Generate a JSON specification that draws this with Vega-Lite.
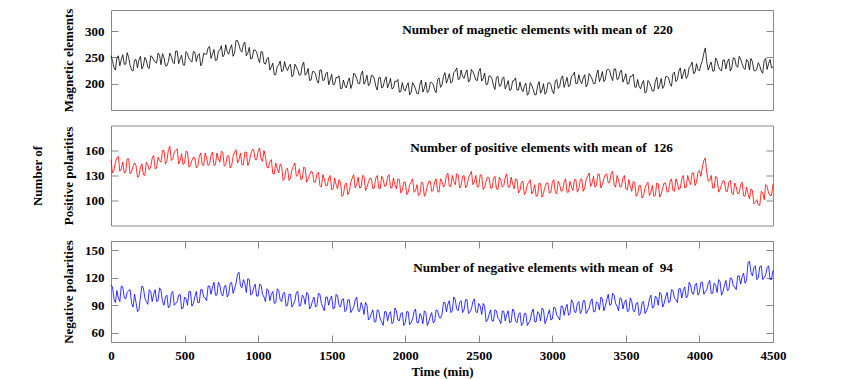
{
"$schema": "https://vega.github.io/schema/vega-lite/v6.json",
"background": "white",
"padding": {"left": 31, "top": 7, "right": 5, "bottom": 5},
"spacing": 15.5,
"bounds": "flush",
"config": {
  "font": "Liberation Serif",
  "view": {"stroke": "#888", "strokeWidth": 1},
  "axis": {"grid": false, "domain": false, "tickColor": "#888", "tickSize": -7, "labelPadding": 14, "titlePadding": 9,
    "labelFont": "Liberation Serif", "labelFontSize": 13, "labelFontWeight": "bold", "labelColor": "black", "format": "d",
    "titleFont": "Liberation Serif", "titleFontSize": 13, "titleFontWeight": "bold", "titleColor": "black"}
},
"datasets": {"d": [
{"t":0,"m":253,"p":149,"n":112},{"t":10,"m":244,"p":133,"n":110},{"t":20,"m":231,"p":136,"n":97},{"t":30,"m":226,"p":146,"n":93},{"t":40,"m":248,"p":151,"n":106},{"t":50,"m":253,"p":153,"n":98},{"t":60,"m":234,"p":135,"n":94},{"t":70,"m":246,"p":138,"n":111},{"t":80,"m":255,"p":146,"n":110},{"t":90,"m":237,"p":133,"n":98},
{"t":100,"m":237,"p":134,"n":97},{"t":110,"m":259,"p":150,"n":104},{"t":120,"m":250,"p":150,"n":106},{"t":130,"m":235,"p":132,"n":107},{"t":140,"m":226,"p":135,"n":92},{"t":150,"m":224,"p":141,"n":88},{"t":160,"m":245,"p":145,"n":102},{"t":170,"m":246,"p":142,"n":93},{"t":180,"m":230,"p":128,"n":83},{"t":190,"m":245,"p":129,"n":85},
{"t":200,"m":252,"p":140,"n":99},{"t":210,"m":228,"p":144,"n":111},{"t":220,"m":234,"p":131,"n":109},{"t":230,"m":250,"p":130,"n":98},{"t":240,"m":245,"p":146,"n":94},{"t":250,"m":231,"p":143,"n":91},{"t":260,"m":229,"p":137,"n":107},{"t":270,"m":253,"p":140,"n":105},{"t":280,"m":251,"p":151,"n":94},{"t":290,"m":245,"p":154,"n":102},
{"t":300,"m":241,"p":138,"n":107},{"t":310,"m":239,"p":139,"n":94},{"t":320,"m":258,"p":152,"n":95},{"t":330,"m":254,"p":148,"n":109},{"t":340,"m":236,"p":146,"n":106},{"t":350,"m":257,"p":160,"n":94},{"t":360,"m":250,"p":160,"n":90},{"t":370,"m":234,"p":144,"n":99},{"t":380,"m":234,"p":147,"n":101},{"t":390,"m":242,"p":161,"n":87},
{"t":400,"m":258,"p":165,"n":89},{"t":410,"m":252,"p":148,"n":103},{"t":420,"m":241,"p":150,"n":105},{"t":430,"m":238,"p":158,"n":90},{"t":440,"m":262,"p":160,"n":92},{"t":450,"m":262,"p":162,"n":94},{"t":460,"m":238,"p":144,"n":101},{"t":470,"m":247,"p":148,"n":102},{"t":480,"m":254,"p":156,"n":86},{"t":490,"m":236,"p":143,"n":87},
{"t":500,"m":235,"p":145,"n":99},{"t":510,"m":261,"p":159,"n":97},{"t":520,"m":257,"p":158,"n":90},{"t":530,"m":248,"p":140,"n":105},{"t":540,"m":244,"p":142,"n":105},{"t":550,"m":241,"p":148,"n":89},{"t":560,"m":261,"p":152,"n":92},{"t":570,"m":260,"p":151,"n":99},{"t":580,"m":242,"p":139,"n":105},{"t":590,"m":254,"p":141,"n":93},
{"t":600,"m":257,"p":153,"n":93},{"t":610,"m":234,"p":157,"n":107},{"t":620,"m":240,"p":143,"n":107},{"t":630,"m":258,"p":142,"n":99},{"t":640,"m":256,"p":157,"n":98},{"t":650,"m":256,"p":151,"n":95},{"t":660,"m":268,"p":142,"n":111},{"t":670,"m":271,"p":144,"n":111},{"t":680,"m":248,"p":154,"n":102},{"t":690,"m":256,"p":158,"n":110},
{"t":700,"m":265,"p":142,"n":115},{"t":710,"m":244,"p":143,"n":101},{"t":720,"m":245,"p":157,"n":101},{"t":730,"m":262,"p":150,"n":115},{"t":740,"m":264,"p":146,"n":112},{"t":750,"m":272,"p":159,"n":102},{"t":760,"m":251,"p":158,"n":100},{"t":770,"m":255,"p":141,"n":110},{"t":780,"m":274,"p":143,"n":112},{"t":790,"m":261,"p":153,"n":99},
{"t":800,"m":256,"p":154,"n":102},{"t":810,"m":267,"p":139,"n":114},{"t":820,"m":274,"p":142,"n":115},{"t":830,"m":252,"p":153,"n":103},{"t":840,"m":258,"p":158,"n":108},{"t":850,"m":282,"p":161,"n":114},{"t":860,"m":282,"p":145,"n":124},{"t":870,"m":274,"p":149,"n":126},{"t":880,"m":263,"p":157,"n":111},{"t":890,"m":260,"p":143,"n":109},
{"t":900,"m":275,"p":143,"n":118},{"t":910,"m":279,"p":158,"n":114},{"t":920,"m":253,"p":158,"n":104},{"t":930,"m":258,"p":142,"n":119},{"t":940,"m":269,"p":147,"n":118},{"t":950,"m":247,"p":155,"n":101},{"t":960,"m":248,"p":161,"n":103},{"t":970,"m":264,"p":161,"n":109},{"t":980,"m":264,"p":149,"n":113},{"t":990,"m":260,"p":149,"n":100},
{"t":1000,"m":248,"p":159,"n":100},{"t":1010,"m":240,"p":163,"n":113},{"t":1020,"m":261,"p":150,"n":112},{"t":1030,"m":260,"p":147,"n":102},{"t":1040,"m":239,"p":160,"n":99},{"t":1050,"m":237,"p":152,"n":94},{"t":1060,"m":247,"p":140,"n":108},{"t":1070,"m":250,"p":139,"n":106},{"t":1080,"m":226,"p":147,"n":95},{"t":1090,"m":232,"p":149,"n":102},
{"t":1100,"m":239,"p":132,"n":105},{"t":1110,"m":217,"p":132,"n":92},{"t":1120,"m":217,"p":145,"n":93},{"t":1130,"m":233,"p":138,"n":108},{"t":1140,"m":235,"p":133,"n":106},{"t":1150,"m":243,"p":144,"n":96},{"t":1160,"m":223,"p":141,"n":94},{"t":1170,"m":225,"p":124,"n":103},{"t":1180,"m":242,"p":126,"n":104},{"t":1190,"m":230,"p":137,"n":89},
{"t":1200,"m":225,"p":139,"n":90},{"t":1210,"m":233,"p":124,"n":102},{"t":1220,"m":237,"p":127,"n":102},{"t":1230,"m":213,"p":137,"n":88},{"t":1240,"m":217,"p":141,"n":91},{"t":1250,"m":237,"p":145,"n":95},{"t":1260,"m":232,"p":129,"n":104},{"t":1270,"m":225,"p":131,"n":105},{"t":1280,"m":216,"p":138,"n":89},{"t":1290,"m":217,"p":125,"n":90},
{"t":1300,"m":235,"p":126,"n":101},{"t":1310,"m":241,"p":140,"n":99},{"t":1320,"m":216,"p":139,"n":91},{"t":1330,"m":220,"p":122,"n":104},{"t":1340,"m":229,"p":126,"n":102},{"t":1350,"m":206,"p":131,"n":86},{"t":1360,"m":207,"p":135,"n":89},{"t":1370,"m":223,"p":134,"n":95},{"t":1380,"m":223,"p":122,"n":99},{"t":1390,"m":219,"p":122,"n":88},
{"t":1400,"m":206,"p":132,"n":90},{"t":1410,"m":201,"p":134,"n":103},{"t":1420,"m":226,"p":118,"n":102},{"t":1430,"m":226,"p":116,"n":92},{"t":1440,"m":206,"p":131,"n":88},{"t":1450,"m":207,"p":126,"n":84},{"t":1460,"m":219,"p":118,"n":99},{"t":1470,"m":222,"p":118,"n":99},{"t":1480,"m":198,"p":127,"n":90},{"t":1490,"m":207,"p":130,"n":97},
{"t":1500,"m":218,"p":113,"n":100},{"t":1510,"m":198,"p":114,"n":86},{"t":1520,"m":199,"p":127,"n":87},{"t":1530,"m":212,"p":119,"n":102},{"t":1540,"m":211,"p":114,"n":100},{"t":1550,"m":215,"p":125,"n":90},{"t":1560,"m":191,"p":122,"n":88},{"t":1570,"m":191,"p":105,"n":96},{"t":1580,"m":207,"p":107,"n":97},{"t":1590,"m":196,"p":119,"n":83},
{"t":1600,"m":192,"p":121,"n":85},{"t":1610,"m":204,"p":107,"n":96},{"t":1620,"m":211,"p":111,"n":96},{"t":1630,"m":191,"p":122,"n":82},{"t":1640,"m":199,"p":127,"n":85},{"t":1650,"m":220,"p":131,"n":88},{"t":1660,"m":217,"p":115,"n":96},{"t":1670,"m":210,"p":119,"n":99},{"t":1680,"m":200,"p":128,"n":84},{"t":1690,"m":200,"p":115,"n":83},
{"t":1700,"m":218,"p":116,"n":93},{"t":1710,"m":224,"p":130,"n":89},{"t":1720,"m":199,"p":129,"n":80},{"t":1730,"m":205,"p":112,"n":93},{"t":1740,"m":216,"p":116,"n":90},{"t":1750,"m":196,"p":122,"n":74},{"t":1760,"m":200,"p":127,"n":76},{"t":1770,"m":216,"p":126,"n":81},{"t":1780,"m":215,"p":114,"n":85},{"t":1790,"m":209,"p":115,"n":72},
{"t":1800,"m":195,"p":127,"n":72},{"t":1810,"m":188,"p":130,"n":85},{"t":1820,"m":211,"p":115,"n":84},{"t":1830,"m":212,"p":114,"n":75},{"t":1840,"m":192,"p":129,"n":72},{"t":1850,"m":194,"p":125,"n":68},{"t":1860,"m":207,"p":117,"n":83},{"t":1870,"m":213,"p":118,"n":83},{"t":1880,"m":192,"p":128,"n":73},{"t":1890,"m":200,"p":131,"n":80},
{"t":1900,"m":210,"p":115,"n":83},{"t":1910,"m":190,"p":115,"n":70},{"t":1920,"m":192,"p":127,"n":72},{"t":1930,"m":205,"p":119,"n":87},{"t":1940,"m":204,"p":114,"n":84},{"t":1950,"m":208,"p":126,"n":74},{"t":1960,"m":184,"p":125,"n":73},{"t":1970,"m":185,"p":109,"n":81},{"t":1980,"m":202,"p":112,"n":82},{"t":1990,"m":190,"p":122,"n":68},
{"t":2000,"m":186,"p":122,"n":71},{"t":2010,"m":196,"p":107,"n":83},{"t":2020,"m":202,"p":110,"n":83},{"t":2030,"m":179,"p":119,"n":69},{"t":2040,"m":183,"p":122,"n":71},{"t":2050,"m":202,"p":126,"n":75},{"t":2060,"m":197,"p":110,"n":83},{"t":2070,"m":190,"p":112,"n":86},{"t":2080,"m":181,"p":119,"n":71},{"t":2090,"m":181,"p":106,"n":71},
{"t":2100,"m":199,"p":108,"n":81},{"t":2110,"m":207,"p":122,"n":78},{"t":2120,"m":184,"p":121,"n":70},{"t":2130,"m":191,"p":105,"n":84},{"t":2140,"m":203,"p":109,"n":82},{"t":2150,"m":183,"p":117,"n":68},{"t":2160,"m":186,"p":123,"n":72},{"t":2170,"m":202,"p":123,"n":78},{"t":2180,"m":202,"p":111,"n":82},{"t":2190,"m":199,"p":112,"n":71},
{"t":2200,"m":188,"p":123,"n":72},{"t":2210,"m":183,"p":126,"n":85},{"t":2220,"m":208,"p":111,"n":84},{"t":2230,"m":211,"p":110,"n":77},{"t":2240,"m":193,"p":126,"n":76},{"t":2250,"m":198,"p":123,"n":80},{"t":2260,"m":214,"p":116,"n":93},{"t":2270,"m":221,"p":119,"n":93},{"t":2280,"m":201,"p":130,"n":83},{"t":2290,"m":209,"p":133,"n":91},
{"t":2300,"m":219,"p":117,"n":95},{"t":2310,"m":201,"p":117,"n":82},{"t":2320,"m":204,"p":130,"n":84},{"t":2330,"m":221,"p":123,"n":99},{"t":2340,"m":224,"p":119,"n":96},{"t":2350,"m":230,"p":132,"n":86},{"t":2360,"m":208,"p":131,"n":84},{"t":2370,"m":209,"p":115,"n":93},{"t":2380,"m":226,"p":118,"n":95},{"t":2390,"m":214,"p":129,"n":82},
{"t":2400,"m":210,"p":130,"n":85},{"t":2410,"m":220,"p":115,"n":96},{"t":2420,"m":226,"p":118,"n":96},{"t":2430,"m":203,"p":127,"n":81},{"t":2440,"m":207,"p":131,"n":83},{"t":2450,"m":227,"p":135,"n":86},{"t":2460,"m":223,"p":119,"n":94},{"t":2470,"m":216,"p":122,"n":97},{"t":2480,"m":207,"p":130,"n":83},{"t":2490,"m":206,"p":116,"n":82},
{"t":2500,"m":223,"p":117,"n":92},{"t":2510,"m":229,"p":131,"n":89},{"t":2520,"m":205,"p":130,"n":80},{"t":2530,"m":210,"p":113,"n":92},{"t":2540,"m":220,"p":116,"n":89},{"t":2550,"m":198,"p":123,"n":72},{"t":2560,"m":199,"p":128,"n":74},{"t":2570,"m":215,"p":127,"n":80},{"t":2580,"m":214,"p":115,"n":85},{"t":2590,"m":209,"p":115,"n":73},
{"t":2600,"m":196,"p":126,"n":73},{"t":2610,"m":189,"p":129,"n":85},{"t":2620,"m":212,"p":114,"n":84},{"t":2630,"m":214,"p":113,"n":76},{"t":2640,"m":195,"p":128,"n":74},{"t":2650,"m":197,"p":124,"n":70},{"t":2660,"m":210,"p":116,"n":84},{"t":2670,"m":213,"p":118,"n":83},{"t":2680,"m":190,"p":128,"n":73},{"t":2690,"m":197,"p":132,"n":80},
{"t":2700,"m":206,"p":116,"n":84},{"t":2710,"m":187,"p":116,"n":71},{"t":2720,"m":189,"p":128,"n":72},{"t":2730,"m":205,"p":120,"n":86},{"t":2740,"m":206,"p":114,"n":83},{"t":2750,"m":211,"p":126,"n":73},{"t":2760,"m":188,"p":125,"n":71},{"t":2770,"m":188,"p":109,"n":80},{"t":2780,"m":203,"p":112,"n":82},{"t":2790,"m":190,"p":122,"n":68},
{"t":2800,"m":185,"p":123,"n":70},{"t":2810,"m":195,"p":107,"n":81},{"t":2820,"m":201,"p":110,"n":81},{"t":2830,"m":178,"p":119,"n":68},{"t":2840,"m":182,"p":122,"n":71},{"t":2850,"m":202,"p":125,"n":74},{"t":2860,"m":197,"p":108,"n":82},{"t":2870,"m":189,"p":111,"n":86},{"t":2880,"m":179,"p":119,"n":72},{"t":2890,"m":179,"p":105,"n":72},
{"t":2900,"m":196,"p":106,"n":83},{"t":2910,"m":204,"p":121,"n":81},{"t":2920,"m":182,"p":120,"n":73},{"t":2930,"m":188,"p":104,"n":87},{"t":2940,"m":200,"p":109,"n":85},{"t":2950,"m":180,"p":116,"n":70},{"t":2960,"m":184,"p":121,"n":74},{"t":2970,"m":201,"p":121,"n":80},{"t":2980,"m":202,"p":109,"n":85},{"t":2990,"m":198,"p":110,"n":74},
{"t":3000,"m":186,"p":122,"n":75},{"t":3010,"m":181,"p":125,"n":88},{"t":3020,"m":205,"p":110,"n":87},{"t":3030,"m":208,"p":108,"n":79},{"t":3040,"m":191,"p":123,"n":77},{"t":3050,"m":195,"p":119,"n":74},{"t":3060,"m":210,"p":111,"n":89},{"t":3070,"m":215,"p":112,"n":89},{"t":3080,"m":193,"p":122,"n":79},{"t":3090,"m":202,"p":126,"n":87},
{"t":3100,"m":212,"p":110,"n":91},{"t":3110,"m":194,"p":110,"n":79},{"t":3120,"m":197,"p":123,"n":81},{"t":3130,"m":214,"p":116,"n":96},{"t":3140,"m":216,"p":112,"n":93},{"t":3150,"m":222,"p":125,"n":83},{"t":3160,"m":200,"p":125,"n":82},{"t":3170,"m":201,"p":110,"n":92},{"t":3180,"m":217,"p":114,"n":94},{"t":3190,"m":205,"p":125,"n":81},
{"t":3200,"m":200,"p":126,"n":84},{"t":3210,"m":211,"p":111,"n":95},{"t":3220,"m":217,"p":115,"n":95},{"t":3230,"m":194,"p":125,"n":81},{"t":3240,"m":199,"p":129,"n":84},{"t":3250,"m":219,"p":133,"n":87},{"t":3260,"m":215,"p":117,"n":94},{"t":3270,"m":209,"p":121,"n":97},{"t":3280,"m":200,"p":129,"n":83},{"t":3290,"m":200,"p":116,"n":83},
{"t":3300,"m":217,"p":118,"n":94},{"t":3310,"m":226,"p":132,"n":92},{"t":3320,"m":204,"p":131,"n":85},{"t":3330,"m":211,"p":115,"n":99},{"t":3340,"m":223,"p":119,"n":97},{"t":3350,"m":204,"p":126,"n":84},{"t":3360,"m":208,"p":131,"n":89},{"t":3370,"m":226,"p":132,"n":96},{"t":3380,"m":228,"p":121,"n":102},{"t":3390,"m":225,"p":122,"n":90},
{"t":3400,"m":213,"p":133,"n":91},{"t":3410,"m":206,"p":135,"n":103},{"t":3420,"m":228,"p":119,"n":101},{"t":3430,"m":228,"p":116,"n":92},{"t":3440,"m":208,"p":130,"n":89},{"t":3450,"m":209,"p":125,"n":84},{"t":3460,"m":222,"p":116,"n":98},{"t":3470,"m":226,"p":117,"n":97},{"t":3480,"m":203,"p":127,"n":86},{"t":3490,"m":210,"p":130,"n":93},
{"t":3500,"m":219,"p":114,"n":96},{"t":3510,"m":199,"p":113,"n":83},{"t":3520,"m":200,"p":125,"n":84},{"t":3530,"m":214,"p":117,"n":98},{"t":3540,"m":214,"p":111,"n":94},{"t":3550,"m":218,"p":123,"n":84},{"t":3560,"m":194,"p":121,"n":83},{"t":3570,"m":193,"p":105,"n":92},{"t":3580,"m":208,"p":108,"n":93},{"t":3590,"m":195,"p":118,"n":79},
{"t":3600,"m":190,"p":118,"n":81},{"t":3610,"m":200,"p":103,"n":93},{"t":3620,"m":206,"p":106,"n":94},{"t":3630,"m":182,"p":115,"n":81},{"t":3640,"m":185,"p":119,"n":84},{"t":3650,"m":206,"p":122,"n":88},{"t":3660,"m":202,"p":106,"n":97},{"t":3670,"m":195,"p":110,"n":101},{"t":3680,"m":186,"p":118,"n":87},{"t":3690,"m":186,"p":105,"n":88},
{"t":3700,"m":204,"p":106,"n":100},{"t":3710,"m":212,"p":121,"n":98},{"t":3720,"m":190,"p":120,"n":90},{"t":3730,"m":197,"p":104,"n":104},{"t":3740,"m":210,"p":108,"n":102},{"t":3750,"m":191,"p":115,"n":88},{"t":3760,"m":196,"p":121,"n":92},{"t":3770,"m":213,"p":121,"n":99},{"t":3780,"m":214,"p":110,"n":104},{"t":3790,"m":211,"p":111,"n":93},
{"t":3800,"m":200,"p":123,"n":94},{"t":3810,"m":195,"p":126,"n":107},{"t":3820,"m":219,"p":112,"n":106},{"t":3830,"m":222,"p":111,"n":98},{"t":3840,"m":204,"p":126,"n":96},{"t":3850,"m":208,"p":121,"n":93},{"t":3860,"m":224,"p":113,"n":108},{"t":3870,"m":230,"p":115,"n":108},{"t":3880,"m":209,"p":126,"n":98},{"t":3890,"m":218,"p":130,"n":106},
{"t":3900,"m":228,"p":115,"n":110},{"t":3910,"m":210,"p":116,"n":98},{"t":3920,"m":214,"p":130,"n":100},{"t":3930,"m":231,"p":123,"n":115},{"t":3940,"m":234,"p":119,"n":112},{"t":3950,"m":241,"p":133,"n":103},{"t":3960,"m":219,"p":133,"n":102},{"t":3970,"m":221,"p":118,"n":112},{"t":3980,"m":238,"p":122,"n":114},{"t":3990,"m":227,"p":134,"n":101},
{"t":4000,"m":224,"p":136,"n":104},{"t":4010,"m":236,"p":129,"n":115},{"t":4020,"m":244,"p":140,"n":115},{"t":4030,"m":258,"p":148,"n":102},{"t":4040,"m":268,"p":151,"n":105},{"t":4050,"m":240,"p":133,"n":107},{"t":4060,"m":226,"p":123,"n":114},{"t":4070,"m":235,"p":124,"n":117},{"t":4080,"m":241,"p":130,"n":103},{"t":4090,"m":224,"p":115,"n":103},
{"t":4100,"m":224,"p":115,"n":114},{"t":4110,"m":249,"p":129,"n":112},{"t":4120,"m":243,"p":127,"n":104},{"t":4130,"m":232,"p":110,"n":118},{"t":4140,"m":227,"p":113,"n":116},{"t":4150,"m":224,"p":119,"n":101},{"t":4160,"m":245,"p":124,"n":105},{"t":4170,"m":245,"p":123,"n":112},{"t":4180,"m":228,"p":111,"n":117},{"t":4190,"m":242,"p":111,"n":106},
{"t":4200,"m":247,"p":122,"n":107},{"t":4210,"m":224,"p":124,"n":120},{"t":4220,"m":230,"p":109,"n":119},{"t":4230,"m":249,"p":107,"n":111},{"t":4240,"m":248,"p":121,"n":110},{"t":4250,"m":234,"p":116,"n":107},{"t":4260,"m":231,"p":108,"n":122},{"t":4270,"m":252,"p":109,"n":122},{"t":4280,"m":247,"p":119,"n":113},{"t":4290,"m":238,"p":122,"n":121},
{"t":4300,"m":230,"p":106,"n":125},{"t":4310,"m":227,"p":105,"n":114},{"t":4320,"m":246,"p":116,"n":117},{"t":4330,"m":243,"p":108,"n":136},{"t":4340,"m":226,"p":102,"n":138},{"t":4350,"m":248,"p":114,"n":126},{"t":4360,"m":242,"p":112,"n":122},{"t":4370,"m":225,"p":96,"n":131},{"t":4380,"m":224,"p":98,"n":133},{"t":4390,"m":228,"p":101,"n":118},
{"t":4400,"m":240,"p":95,"n":120},{"t":4410,"m":234,"p":94,"n":132},{"t":4420,"m":224,"p":111,"n":133},{"t":4430,"m":220,"p":109,"n":118},{"t":4440,"m":244,"p":101,"n":120},{"t":4450,"m":248,"p":119,"n":123},{"t":4460,"m":227,"p":117,"n":131},{"t":4470,"m":238,"p":109,"n":133},{"t":4480,"m":246,"p":106,"n":118},{"t":4490,"m":230,"p":106,"n":118},
{"t":4500,"m":232,"p":120,"n":128}
]},
"vconcat": [
 {
  "width": 662, "height": 100,
  "resolve": {"axis": {"y": "independent"}},
  "layer": [
   {"data": {"name": "d"},
    "mark": {"type": "line", "color": "black", "strokeWidth": 0.8},
    "encoding": {
     "x": {"field": "t", "type": "quantitative", "scale": {"domain": [0, 4500], "nice": false}, "axis": null},
     "y": {"field": "m", "type": "quantitative", "scale": {"domain": [150, 340], "zero": false, "nice": false},
           "axis": {"title": "Magnetic elements", "values": [200, 250, 300]}}
    }},
   {"data": {"values": [{}]},
    "mark": {"type": "text", "align": "right", "baseline": "middle", "fontSize": 13.2, "fontWeight": "bold", "font": "Liberation Serif", "color": "black"},
    "encoding": {
     "x": {"datum": 3820, "type": "quantitative", "axis": null},
     "y": {"datum": 302, "type": "quantitative", "axis": {"orient": "right", "labels": false, "title": null, "values": [200, 250, 300]}},
     "text": {"value": "Number of magnetic elements with mean of\u00a0 220"}
    }}
  ]
 },
 {
  "width": 662, "height": 100,
  "resolve": {"axis": {"y": "independent"}},
  "layer": [
   {"data": {"name": "d"},
    "mark": {"type": "line", "color": "#ff0000", "strokeWidth": 0.8},
    "encoding": {
     "x": {"field": "t", "type": "quantitative", "scale": {"domain": [0, 4500], "nice": false}, "axis": null},
     "y": {"field": "p", "type": "quantitative", "scale": {"domain": [70, 190], "zero": false, "nice": false},
           "axis": {"title": ["Number of", "Positive polarities"], "titleLineHeight": 31, "values": [100, 130, 160]}}
    }},
   {"data": {"values": [{}]},
    "mark": {"type": "text", "align": "right", "baseline": "middle", "fontSize": 13.2, "fontWeight": "bold", "font": "Liberation Serif", "color": "black"},
    "encoding": {
     "x": {"datum": 3820, "type": "quantitative", "axis": null},
     "y": {"datum": 163, "type": "quantitative", "axis": {"orient": "right", "labels": false, "title": null, "values": [100, 130, 160]}},
     "text": {"value": "Number of positive elements with mean of\u00a0 126"}
    }}
  ]
 },
 {
  "width": 662, "height": 101,
  "resolve": {"axis": {"y": "independent", "x": "independent"}},
  "layer": [
   {"data": {"name": "d"},
    "mark": {"type": "line", "color": "#0000ff", "strokeWidth": 0.8},
    "encoding": {
     "x": {"field": "t", "type": "quantitative", "scale": {"domain": [0, 4500], "nice": false},
           "axis": {"title": "Time (min)", "values": [0, 500, 1000, 1500, 2000, 2500, 3000, 3500, 4000, 4500], "labelFlush": false, "titlePadding": 3}},
     "y": {"field": "n", "type": "quantitative", "scale": {"domain": [50, 160], "zero": false, "nice": false},
           "axis": {"title": "Negative polarities", "values": [60, 90, 120, 150]}}
    }},
   {"data": {"values": [{}]},
    "mark": {"type": "text", "align": "right", "baseline": "middle", "fontSize": 13.2, "fontWeight": "bold", "font": "Liberation Serif", "color": "black"},
    "encoding": {
     "x": {"datum": 3820, "type": "quantitative", "axis": {"orient": "top", "labels": false, "title": null, "values": [0, 500, 1000, 1500, 2000, 2500, 3000, 3500, 4000, 4500]}},
     "y": {"datum": 131, "type": "quantitative", "axis": {"orient": "right", "labels": false, "title": null, "values": [60, 90, 120, 150]}},
     "text": {"value": "Number of negative elements with mean of\u00a0 94"}
    }}
  ]
 }
]
}
